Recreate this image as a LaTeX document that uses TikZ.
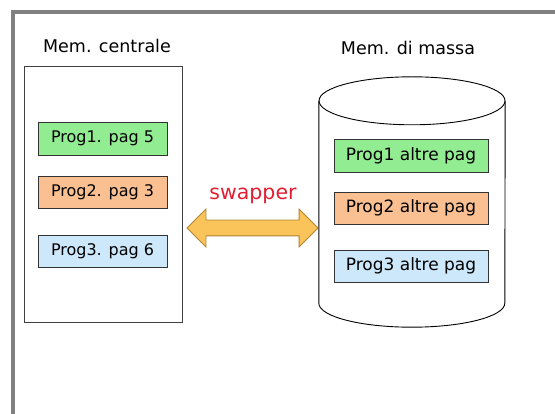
\documentclass[tikz,border=0pt]{standalone}
\usepackage{fontspec}
\setmainfont{DejaVu Sans}
\usetikzlibrary{shapes.arrows}
\definecolor{framegray}{RGB}{128,128,128}
\definecolor{pgreen}{RGB}{146,236,146}
\definecolor{porange}{RGB}{250,192,145}
\definecolor{pblue}{RGB}{204,232,250}
\definecolor{arrowfill}{RGB}{250,196,90}
\definecolor{arrowedge}{RGB}{176,134,50}
\definecolor{swapred}{RGB}{226,30,50}
\tikzset{
  progbox/.style={draw=black!80, line width=0.9pt, inner sep=0pt, font=\fontsize{16}{18}\selectfont},
  title/.style={font=\fontsize{17.5}{19}\selectfont},
}
\begin{document}
\begin{tikzpicture}[x=1pt,y=-1pt]
\useasboundingbox (0,0) rectangle (555,414);
\fill[white] (0,0) rectangle (555,414);
% outer frame (only top and left edges show)
\draw[framegray, line width=4pt] (12.5,414) -- (12.5,12.5) -- (555,12.5);

% main memory
\node[title] (tcentral) at (107,46) {Mem. centrale};
\node[draw=black!75, line width=0.9pt, minimum width=158, minimum height=256, inner sep=0pt] (central) at (103,194) {};
\node[progbox, fill=pgreen, minimum width=129, minimum height=33] (c1) at (102.5,138.5) {Prog1. pag 5};
\node[progbox, fill=porange, minimum width=129, minimum height=32] (c2) at (102.5,192) {Prog2. pag 3};
\node[progbox, fill=pblue, minimum width=129, minimum height=32] (c3) at (102.5,251) {Prog3. pag 6};

% mass storage (cylinder)
\node[title] (tmassa) at (408,48) {Mem. di massa};
\node[minimum width=186, minimum height=202, inner sep=0pt] (massa) at (412,202) {};
\draw[line width=0.9pt] (massa.north west) -- (massa.south west)
  arc[start angle=180, end angle=0, x radius=93, y radius=24] -- (massa.north east);
\draw[line width=0.9pt] (massa.north) ellipse[x radius=93, y radius=24];
\node[progbox, fill=pgreen, minimum width=154, minimum height=33, font=\fontsize{17}{19}\selectfont] (m1) at (411,155.5) {Prog1 altre pag};
\node[progbox, fill=porange, minimum width=154, minimum height=32, font=\fontsize{17}{19}\selectfont] (m2) at (411,208) {Prog2 altre pag};
\node[progbox, fill=pblue, minimum width=154, minimum height=32, font=\fontsize{17}{19}\selectfont] (m3) at (411,266) {Prog3 altre pag};

% swapper double arrow
\node[double arrow, draw=arrowedge, fill=arrowfill, line width=0.9pt,
      minimum width=37, minimum height=131, double arrow head extend=11,
      inner xsep=0pt, inner ysep=7.5pt] (swap) at (252.5,228) {};
\node[text=swapred, font=\fontsize{20.5}{22}\selectfont] (lswap) at (253,196) {swapper};
\end{tikzpicture}
\end{document}
